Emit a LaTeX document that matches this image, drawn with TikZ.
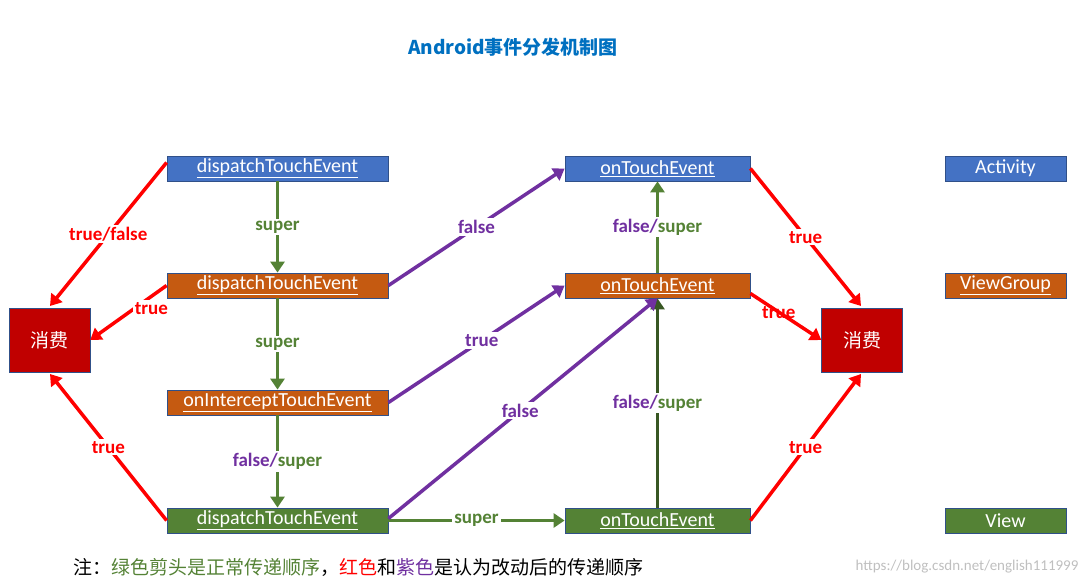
\documentclass[tikz,border=0pt]{standalone}
\usepackage{fontspec}
\setmainfont{Carlito}
\newfontfamily\cjk{Noto Sans CJK SC}
\usetikzlibrary{arrows.meta}
\definecolor{cblue}{HTML}{4472C4}
\definecolor{corange}{HTML}{C55A11}
\definecolor{cgreen}{HTML}{548235}
\definecolor{cdgreen}{HTML}{385723}
\definecolor{cred}{HTML}{C00000}
\definecolor{cpurple}{HTML}{7030A0}
\definecolor{ctitle}{HTML}{0070C0}
\begin{document}
\begin{tikzpicture}[x=1pt,y=-1pt,
  box/.style={draw=cblue!70!black,line width=0.8pt,text=white,inner sep=0pt,minimum height=25pt,font=\fontsize{20}{22}\selectfont},
  eat/.style={draw=cblue!70!black,fill=cred,text=white,minimum width=81pt,minimum height=64pt,inner sep=0pt,font=\cjk\fontsize{19}{22}\selectfont},
  lbl/.style={fill=white,inner sep=2pt,font=\bfseries\fontsize{19}{22}\selectfont},
  ra/.style={draw=red,line width=3.5pt,-{Triangle[length=11pt,width=14pt]}},
  ga/.style={draw=cgreen,line width=3.5pt,-{Triangle[length=11pt,width=14pt]}},
  pa/.style={draw=cpurple,line width=3.5pt,-{Triangle[length=11pt,width=14pt]}}]
\useasboundingbox (0,0) rectangle (1088,586);
\node[font=\cjk\bfseries\fontsize{19}{22}\selectfont,text=ctitle] (title) at (513,47) {Android事件分发机制图};
% left column
\node[box,fill=cblue,minimum width=221pt] (d1) at (277.5,168.5) {\underline{dispatchTouchEvent}};
\node[box,fill=corange,minimum width=221pt] (d2) at (277.5,285.5) {\underline{dispatchTouchEvent}};
\node[box,fill=corange,minimum width=221pt] (ic) at (277.5,402.5) {\underline{onInterceptTouchEvent}};
\node[box,fill=cgreen,minimum width=221pt] (d3) at (277.5,520.5) {\underline{dispatchTouchEvent}};
% middle column
\node[box,fill=cblue,minimum width=185pt] (t1) at (657.5,168.5) {\underline{onTouchEvent}};
\node[box,fill=corange,minimum width=185pt] (t2) at (657.5,285.5) {\underline{onTouchEvent}};
\node[box,fill=cgreen,minimum width=185pt] (t3) at (657.5,520.5) {\underline{onTouchEvent}};
% right labels
\node[box,fill=cblue,minimum width=121pt] (la) at (1005.5,168.5) {Activity};
\node[box,fill=corange,minimum width=121pt] (lv) at (1005.5,285.5) {\underline{ViewGroup}};
\node[box,fill=cgreen,minimum width=121pt] (lw) at (1005.5,520.5) {View};
% consume
\node[eat] (c1) at (49.5,340) {消费};
\node[eat] (c2) at (862,340) {消费};
\coordinate (c1t) at (50,306);
\coordinate (c1b) at (50,374);
\coordinate (c2t) at (861,306);
\coordinate (c2b) at (861,374);
% red
\draw[ra] (d1.west) ++(0,-6) -- (c1t) node[pos=0.5,lbl,text=red,draw=none] {true/false};
\draw[ra] (d2.west) -- (c1.east) node[pos=0.2,lbl,text=red,below=2pt] {true};
\draw[ra] (d3.west) -- (c1b) node[pos=0.5,lbl,text=red] {true};
\draw[ra] (t1.east) -- (c2t) node[pos=0.5,lbl,text=red] {true};
\draw[ra] (t2.east) ++(0,8) -- (c2.west) node[pos=0.4,lbl,text=red,fill=none] {true};
\draw[ra] (t3.east) -- (c2b) node[pos=0.5,lbl,text=red] {true};
% green
\draw[ga] (d1) -- (d2) node[midway,lbl,text=cgreen] {super};
\draw[ga] (d2) -- (ic) node[midway,lbl,text=cgreen] {super};
\draw[ga] (ic) -- (d3) node[midway,lbl] {\textcolor{cpurple}{false/}\textcolor{cgreen}{super}};
\draw[ga] (d3) -- (t3) node[midway,lbl,text=cgreen] {super};
\draw[ga] (t2) -- (t1) node[midway,lbl] {\textcolor{cpurple}{false/}\textcolor{cgreen}{super}};
\draw[ga,draw=cdgreen] (t3) -- (t2) node[midway,lbl] {\textcolor{cpurple}{false/}\textcolor{cgreen}{super}};
% purple
\draw[pa] (d2.east) -- (t1.west) node[midway,lbl,text=cpurple] {false};
\draw[pa] (ic.east) -- (t2.west) node[pos=0.53,lbl,text=cpurple] {true};
\draw[pa] (d3.east) ++(0,-2) -- (t2.south) node[pos=0.49,lbl,text=cpurple] {false};
% footer
\node[anchor=west,font=\cjk\fontsize{19}{22}\selectfont] (foot) at (70,567) {注：\textcolor{cgreen}{绿色剪头是正常传递顺序}，\textcolor{red}{红色}和\textcolor{cpurple}{紫色}是认为改动后的传递顺序};
\node[anchor=east,text=black!25,font=\fontsize{15}{17}\selectfont] (wm) at (1082,567) {https://blog.csdn.net/english111999};
\end{tikzpicture}
\end{document}
